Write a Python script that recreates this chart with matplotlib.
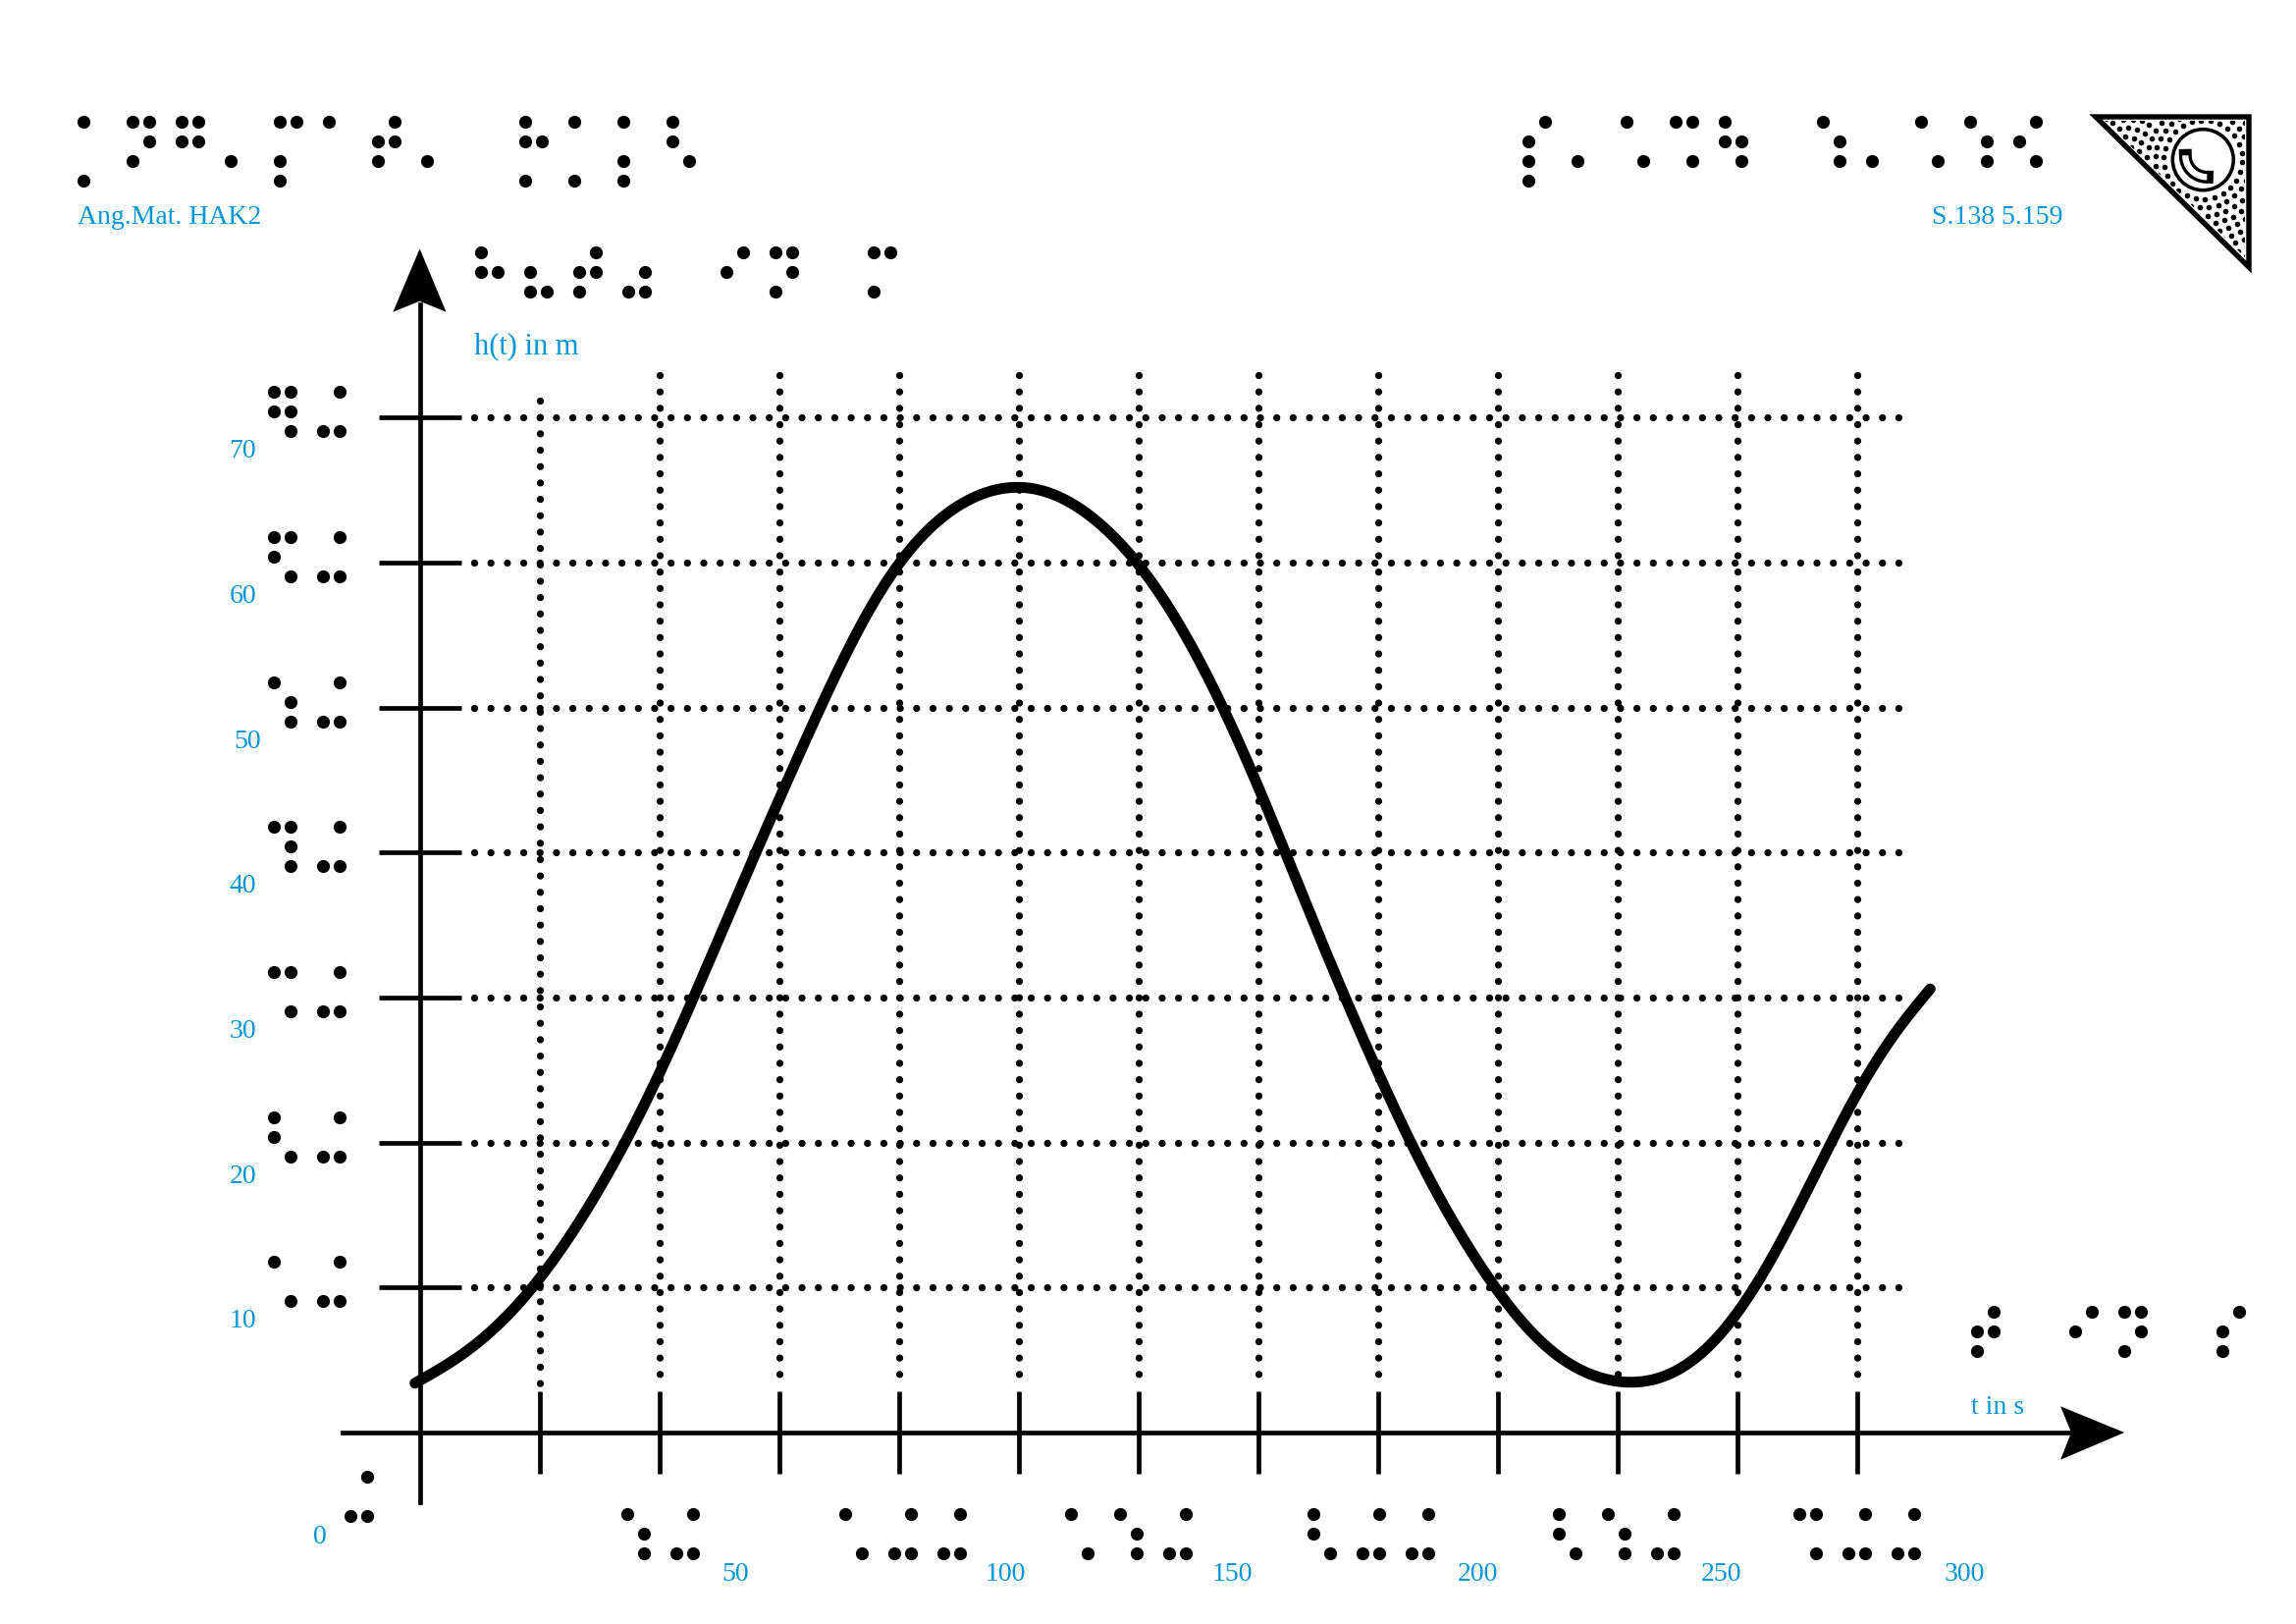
import numpy as np
import matplotlib
matplotlib.use("Agg")
import matplotlib.pyplot as plt
from matplotlib.patches import Polygon, Circle

# ---- data ----
t_values = [-1, 0, 6.6, 14.1, 23.8, 32.6, 42.9, 50, 57.1, 67.3, 75, 84, 92, 100, 106, 112.5, 120, 125.5,
            130.9, 136, 141.2, 150, 158.2, 167.5, 175, 180.4, 192.9, 200, 205.1, 212, 219.7, 224.2, 233.4,
            242.2, 250, 253.5, 260.8, 267.5, 275, 279.4, 288, 294.5, 300, 307, 315.2]
h_values = [3.4, 3.5, 4.8, 6.6, 10, 14.1, 20, 24.5, 30, 37.9, 43.7, 50, 56.1, 60, 62.4, 63.9, 65.05, 65.3,
            64.95, 64.1, 62.9, 60, 56.15, 50, 45, 40, 30, 25.2, 21, 16.4, 12.7, 10, 6.25,
            4.2, 3.66, 3.47, 3.88, 5.23, 8.28, 10, 15.7, 20, 23.6, 27.7, 30.6]
t_ticks = [25, 50, 75, 100, 125, 150, 175, 200, 225, 250, 275, 300]
h_ticks = [10, 20, 30, 40, 50, 60, 70]

# text labels
y_labels = ["10", "20", "30", "40", "50", "60", "70"]
x_labels = ["50", "100", "150", "200", "250", "300"]
x_label_centres = [748.7, 1024.4, 1255, 1505, 1754, 2001]

# braille cells (dot numbers per cell)
br_header_left = ["17", "1345", "1245", "3", "1347", "1", "2345", "3", "", "1257", "17", "137", "126"]
br_header_right = ["2347", "3", "16", "146", "1256", "", "156", "3", "16", "156", "246"]
br_ylabel = ["125", "236", "2345", "356", "", "24", "1345", "", "134"]
br_xlabel = ["2345", "", "24", "1345", "", "234"]
br_zero = ["346"]
br_y_ticks = {10: ["16", "346"], 20: ["126", "346"], 30: ["146", "346"], 40: ["1456", "346"],
              50: ["156", "346"], 60: ["1246", "346"], 70: ["12456", "346"]}
br_x_ticks = [(639.3, ["156", "346"]), (860.6, ["16", "346", "346"]), (1091.4, ["16", "156", "346"]),
              (1337.6, ["126", "346", "346"]), (1587.6, ["126", "156", "346"]), (1832.5, ["146", "346", "346"])]

BLUE = "#0096d6"
FONT = "Liberation Serif"
W, H = 2339, 1654
X0, Y0 = 427.6, 1459.0
PX_T, PX_H = 4.881, 14.765
PT = 0.72  # points per pixel at dpi 100


def tx(px):
    return (px - X0) / PX_T


def hy(py):
    return (Y0 - py) / PX_H


def smooth_line(ts, hs, step=0.25, sigma=9.0):
    """Round off the read polyline for drawing, evening out the small reading errors."""
    t = np.arange(ts[0], ts[-1] + step / 2, step)
    y = np.interp(t, ts, hs)
    half = int(4 * sigma / step)
    kern = np.exp(-0.5 * (np.arange(-half, half + 1) * step / sigma) ** 2)
    kern /= kern.sum()

    def blur(v):
        # odd reflection keeps the end points of the line in place
        left = 2 * v[0] - v[half:0:-1]
        right = 2 * v[-1] - v[-2:-half - 2:-1]
        return np.convolve(np.concatenate([left, v, right]), kern, mode="valid")

    g = blur(y)
    return t, 2 * g - blur(g)


fig = plt.figure(figsize=(W / 100, H / 100), dpi=100, facecolor="white")
ax = fig.add_axes([0, 0, 1, 1], facecolor="none")
ax.set_xlim(tx(0), tx(W))
ax.set_ylim(hy(H), hy(0))

# real axes: spines through the origin, long in-out ticks, no tick labels
for s in ("top", "right"):
    ax.spines[s].set_visible(False)
ax.spines["left"].set_position(("data", 0))
ax.spines["bottom"].set_position(("data", 0))
ax.spines["left"].set_bounds(hy(1529.6), hy(310))
ax.spines["bottom"].set_bounds(tx(349), tx(2112))
ax.spines["left"].set_linewidth(4.7 * PT)
ax.spines["bottom"].set_linewidth(4.7 * PT)
ax.set_xticks(t_ticks)
ax.set_yticks(h_ticks)
ax.tick_params(axis="both", direction="inout", length=84 * PT, width=4.7 * PT,
               labelbottom=False, labelleft=False, color="black")

# dotted grid
DOT = 7.3
dots = dict(color="black", lw=DOT * PT, dash_capstyle="round", zorder=1,
            linestyle=(0, (0.001, 16.67 / DOT)))
for h in h_ticks:
    ax.plot([tx(483.3), tx(1935)], [h, h], **dots)
for t in t_ticks:
    top = 408.0 if t == 25 else 382.4
    bot = 1409.0 if t == 25 else 1400.5
    ax.plot([t, t], [hy(top), hy(bot)], **dots)

# the curve
t_line, h_line = smooth_line(t_values, h_values)
ax.plot(t_line, h_line, color="black", lw=11 * PT, solid_capstyle="round",
        solid_joinstyle="round", zorder=3)

# pixel-space overlay for labels, arrows and the corner mark
ov = fig.add_axes([0, 0, 1, 1], facecolor="none")
ov.set_xlim(0, W)
ov.set_ylim(H, 0)
ov.axis("off")


def braille(x0, y0, cells, col=17.0, row=20.0, pitch=50.0, d=13.2):
    xs, ys = [], []
    pos = {"1": (0, 0), "2": (0, 1), "3": (0, 2), "7": (0, 3),
           "4": (1, 0), "5": (1, 1), "6": (1, 2), "8": (1, 3)}
    for i, c in enumerate(cells):
        for ch in c:
            cx, cy = pos[ch]
            xs.append(x0 + i * pitch + cx * col)
            ys.append(y0 + cy * row)
    ov.scatter(xs, ys, s=(d * PT) ** 2, c="black", linewidths=0, zorder=5)


braille(85.3, 124.3, br_header_left)
braille(1557.2, 124.3, br_header_right)
braille(489.7, 257.3, br_ylabel)
braille(2013.6, 1336.0, br_xlabel)
braille(357.3, 1504.3, br_zero)
for h, cells in br_y_ticks.items():
    braille(279.3, Y0 - h * PX_H - 26, cells)
for x0, cells in br_x_ticks:
    braille(x0, 1542.3, cells)

# arrow heads
ov.add_patch(Polygon([(427.6, 253.3), (454.5, 317.7), (427.6, 306.7), (400.4, 317.7)],
                     closed=True, fc="black", ec="none", zorder=4))
ov.add_patch(Polygon([(2164.2, 1459), (2099.1, 1486.7), (2110, 1459), (2099.1, 1432.3)],
                     closed=True, fc="black", ec="none", zorder=4))

# blue texts
tkw = dict(color=BLUE, family=FONT, fontsize=20, va="baseline")
ov.text(79, 228.3, "Ang.Mat. HAK2", ha="left", **tkw)
ov.text(2035, 228.3, "S.138 5.159", ha="center", **tkw)
ov.text(483, 360.7, "h(t) in m", ha="left", color=BLUE, family=FONT, fontsize=22, va="baseline")
ov.text(2008, 1440, "t in s", ha="left", **tkw)
ov.text(333, 1571.5, "0", ha="right", **tkw)
for h, lab in zip(h_ticks, y_labels):
    ov.text(266 if lab == "50" else 261, Y0 - h * PX_H + 41, lab, ha="right", **tkw)
for xc, lab in zip(x_label_centres, x_labels):
    ov.text(xc, 1610.5, lab, ha="center", **tkw)

# corner mark
tri = [(2135, 119), (2291, 119), (2291, 272)]
cx, cy = 2244.3, 162.7
clip = Polygon([(2144, 123), (2287, 123), (2287, 262)], closed=True, transform=ov.transData)
px, py = [], []
for r in np.arange(40, 135, 8.5):
    n = int(2 * np.pi * r / 9.5)
    a = np.linspace(0, 2 * np.pi, n, endpoint=False) + r * 0.05
    px.extend(cx + r * np.cos(a))
    py.extend(cy + r * np.sin(a))
sc = ov.scatter(px, py, s=(5.6 * PT) ** 2, c="black", linewidths=0, zorder=5)
sc.set_clip_path(clip)
ov.add_patch(Polygon(tri, closed=True, fc="none", ec="black", lw=5.4 * PT, joinstyle="miter", zorder=6))
ov.add_patch(Circle((cx, cy), 31, fc="white", ec="black", lw=3.6 * PT, zorder=6))
arc_x = 2248.3 + 22 * np.cos(np.radians(np.linspace(180, 90, 40)))
arc_y = 158.3 + 22 * np.sin(np.radians(np.linspace(180, 90, 40)))
ov.plot(arc_x, arc_y, color="black", lw=13 * PT, solid_capstyle="projecting", zorder=7)
ov.plot(arc_x, arc_y, color="white", lw=6.4 * PT, solid_capstyle="butt", zorder=8)

fig.savefig("out.png", dpi=100, facecolor="white")
